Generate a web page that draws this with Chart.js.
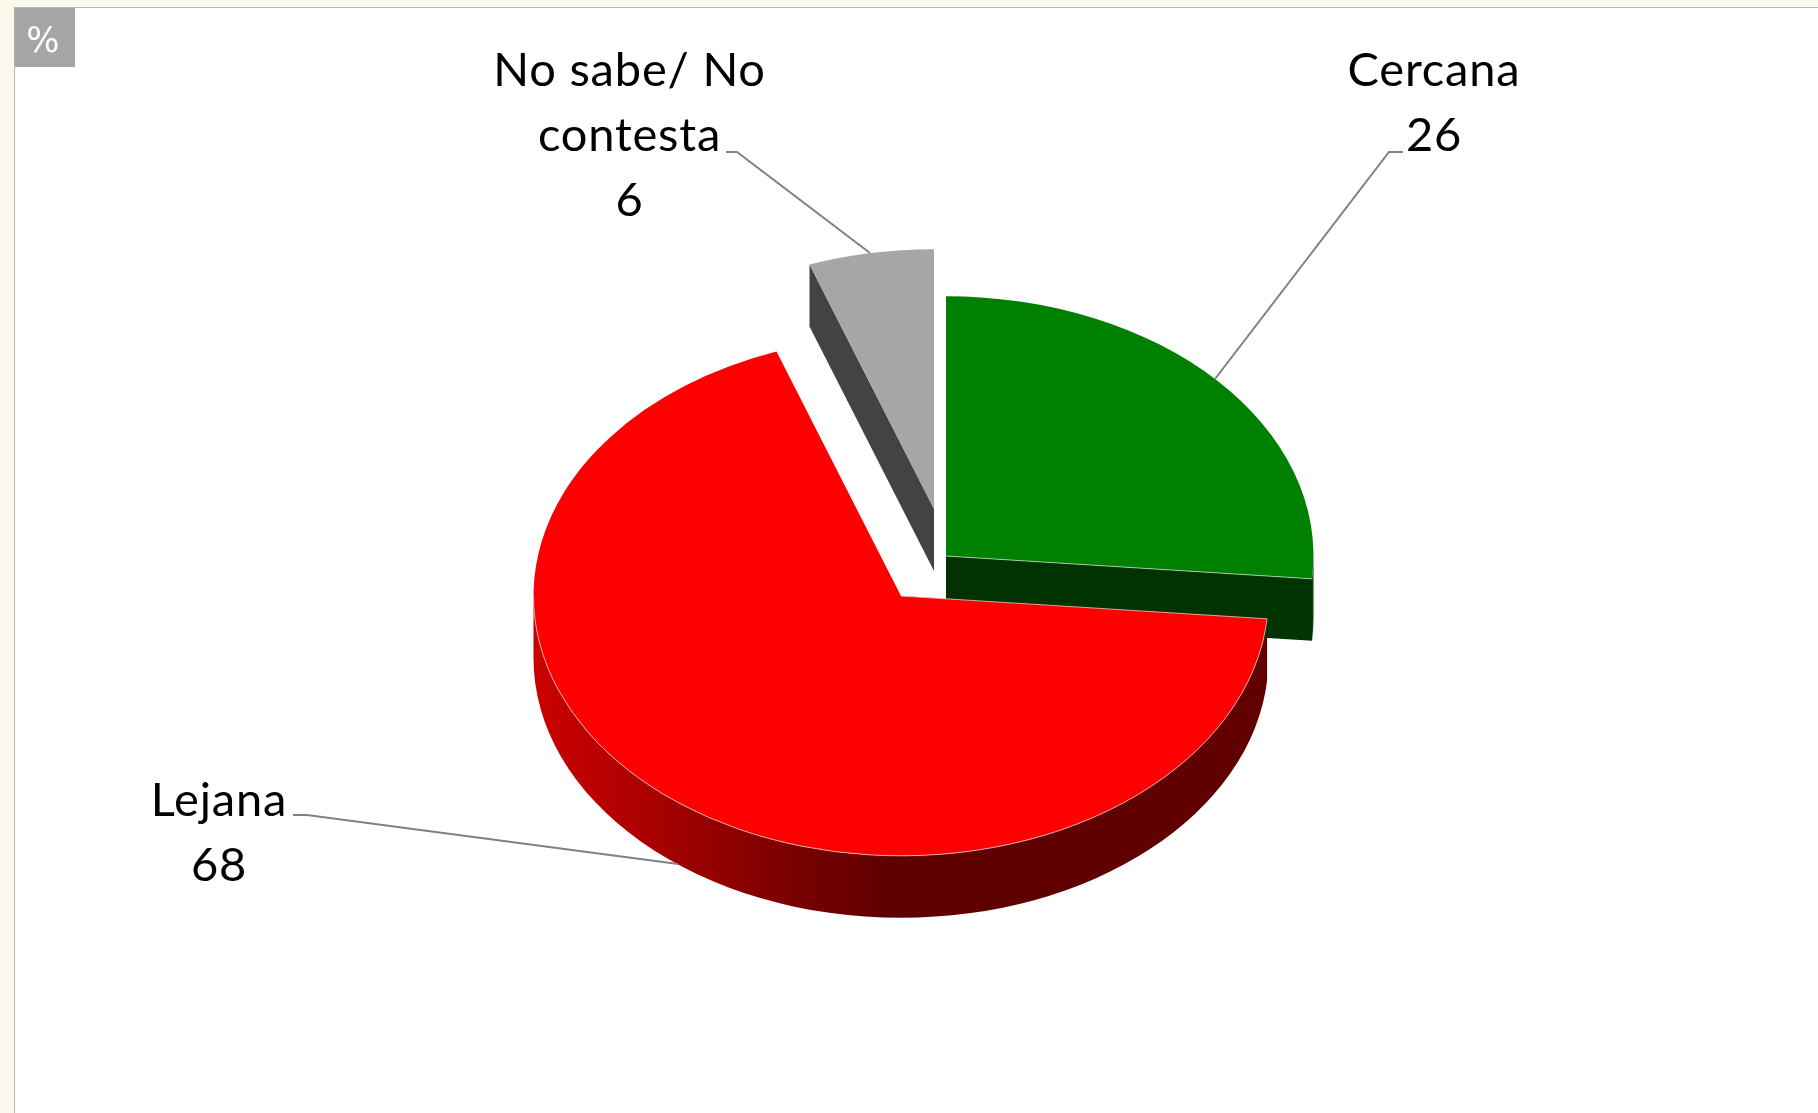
<!DOCTYPE html>
<html><head><meta charset="utf-8">
<style>html,body{margin:0;padding:0;background:#fbf9ec}canvas{display:block}</style>
<script src="https://cdn.jsdelivr.net/npm/chart.js@4"></script>
</head><body><canvas id="c" width="1818" height="1113"></canvas>
<script>
const categories = [["Cercana"], ["Lejana"], ["No sabe/ No", "contesta"]];
const values = [26.4, 68.1, 5.5];
const topColors = ["#008000", "#FF0000", "#A6A6A6"];
const faceColors = ["#013201", "#600000", "#434343"];
const unitTag = "%";

// layout styling
const TILT = 0.707, DEPTH = 62, RADIUS = 367.5;
const sliceCentres = [[946, 556], [901, 596], [934, 509]];
const labelAnchors = [[1434, 86], [219, 816], [629.5, 86]];
const LINE_H = 65;
const leaders = [
  [[1403,152],[1389,152],[1215,379]],
  [[293,815],[307,815],[678,864]],
  [[726,152],[737,152],[870,253]]
];
const FONT = '47px Lato, Carlito, sans-serif';

function wallFill(ctx, i) {
  if (i !== 1) return faceColors[i];
  const g = ctx.createLinearGradient(533, 0, 1267, 0);
  g.addColorStop(0, "#CC0000");
  g.addColorStop(0.133, "#B00000");
  g.addColorStop(0.31, "#840000");
  g.addColorStop(0.485, "#5E0000");
  g.addColorStop(1, "#620000");
  return g;
}
function arcsOf(chart) { return chart.getDatasetMeta(0).data; }

const pie3d = {
  id: "pie3d",
  beforeDraw(chart) {
    const ctx = chart.ctx;
    ctx.save();
    ctx.fillStyle = "#fbf9ec"; ctx.fillRect(0, 0, 1818, 1113);
    ctx.fillStyle = "#ffffff"; ctx.fillRect(15, 8, 1803, 1105);
    ctx.fillStyle = "#b5b5ad"; ctx.fillRect(14, 7, 1804, 1); ctx.fillRect(14, 7, 1, 1106);
    ctx.fillStyle = "#A6A6A6"; ctx.fillRect(15, 8, 60, 59);
    ctx.fillStyle = "#fff"; ctx.font = '35px "DejaVu Sans", sans-serif';
    ctx.textAlign = "center"; ctx.textBaseline = "alphabetic";
    ctx.fillText(unitTag, 43, 52);
    ctx.restore();
  },
  beforeDatasetsDraw(chart) {
    const ctx = chart.ctx, arcs = arcsOf(chart);
    // side walls: red first, then grey, then green
    [1, 2, 0].forEach(i => {
      const a = arcs[i], [cx, cy] = sliceCentres[i], r = a.outerRadius;
      const s = a.startAngle, e = a.endAngle;
      ctx.save();
      ctx.fillStyle = wallFill(ctx, i);
      const face = ang => {
        const px = cx + r * Math.cos(ang), py = cy + r * TILT * Math.sin(ang);
        ctx.beginPath(); ctx.moveTo(cx, cy); ctx.lineTo(px, py);
        ctx.lineTo(px, py + DEPTH); ctx.lineTo(cx, cy + DEPTH); ctx.closePath(); ctx.fill();
      };
      if (-Math.cos(s) > 1e-6) face(s);
      if (Math.cos(e) > 1e-6) face(e);
      // outer rim where it faces the viewer (screen angles 0..PI)
      const ranges = [[s, e], [s - 2 * Math.PI, e - 2 * Math.PI]];
      ranges.forEach(([p, q]) => {
        const a0 = Math.max(p, 0), a1 = Math.min(q, Math.PI);
        if (a1 <= a0) return;
        ctx.beginPath();
        ctx.ellipse(cx, cy, r, r * TILT, 0, a0, a1);
        ctx.ellipse(cx, cy + DEPTH, r, r * TILT, 0, a1, a0, true);
        ctx.closePath(); ctx.fill();
      });
      ctx.restore();
    });
    // top faces: the library's own arc elements, tilted
    [2, 0, 1].forEach(i => {
      const a = arcs[i], [cx, cy] = sliceCentres[i];
      ctx.save();
      ctx.translate(cx, cy); ctx.scale(1, TILT); ctx.translate(-a.x, -a.y);
      a.draw(ctx);
      ctx.restore();
    });
    // pale bevel on the edges that meet a wall
    ctx.save();
    ctx.lineWidth = 1;
    ctx.strokeStyle = "rgba(225,190,190,0.85)";
    let a = arcs[1], [cx, cy] = sliceCentres[1];
    ctx.beginPath();
    ctx.ellipse(cx, cy, a.outerRadius, a.outerRadius * TILT, 0, a.startAngle, Math.PI);
    ctx.stroke();
    ctx.beginPath();
    ctx.moveTo(cx, cy);
    ctx.lineTo(cx + a.outerRadius * Math.cos(a.startAngle), cy + a.outerRadius * TILT * Math.sin(a.startAngle));
    ctx.stroke();
    a = arcs[0]; [cx, cy] = sliceCentres[0];
    ctx.strokeStyle = "rgba(200,215,200,0.8)";
    ctx.beginPath();
    ctx.moveTo(cx, cy);
    ctx.lineTo(cx + a.outerRadius * Math.cos(a.endAngle), cy + a.outerRadius * TILT * Math.sin(a.endAngle));
    ctx.stroke();
    ctx.restore();
    return false;
  },
  afterDraw(chart) {
    const ctx = chart.ctx;
    ctx.save();
    ctx.strokeStyle = "#808080"; ctx.lineWidth = 2;
    leaders.forEach(l => {
      ctx.beginPath();
      l.forEach((p, k) => k ? ctx.lineTo(p[0], p[1]) : ctx.moveTo(p[0], p[1]));
      ctx.stroke();
    });
    ctx.fillStyle = "#000"; ctx.font = FONT;
    ctx.letterSpacing = "0.8px";
    ctx.textAlign = "center"; ctx.textBaseline = "alphabetic";
    categories.forEach((lines, i) => {
      const [x, y] = labelAnchors[i];
      [...lines, String(Math.round(values[i]))].forEach((t, k) => ctx.fillText(t, x, y + k * LINE_H));
    });
    ctx.restore();
  }
};

new Chart(document.getElementById("c"), {
  type: "pie",
  data: {
    labels: categories.map(l => l.join(" ")),
    datasets: [{ data: values, backgroundColor: topColors, borderWidth: 0 }]
  },
  options: {
    responsive: false, animation: false,
    radius: RADIUS,
    layout: { padding: { left: 0, right: 18, top: 79, bottom: 0 } },
    plugins: { legend: { display: false }, tooltip: { enabled: false } }
  },
  plugins: [pie3d]
});
</script></body></html>
